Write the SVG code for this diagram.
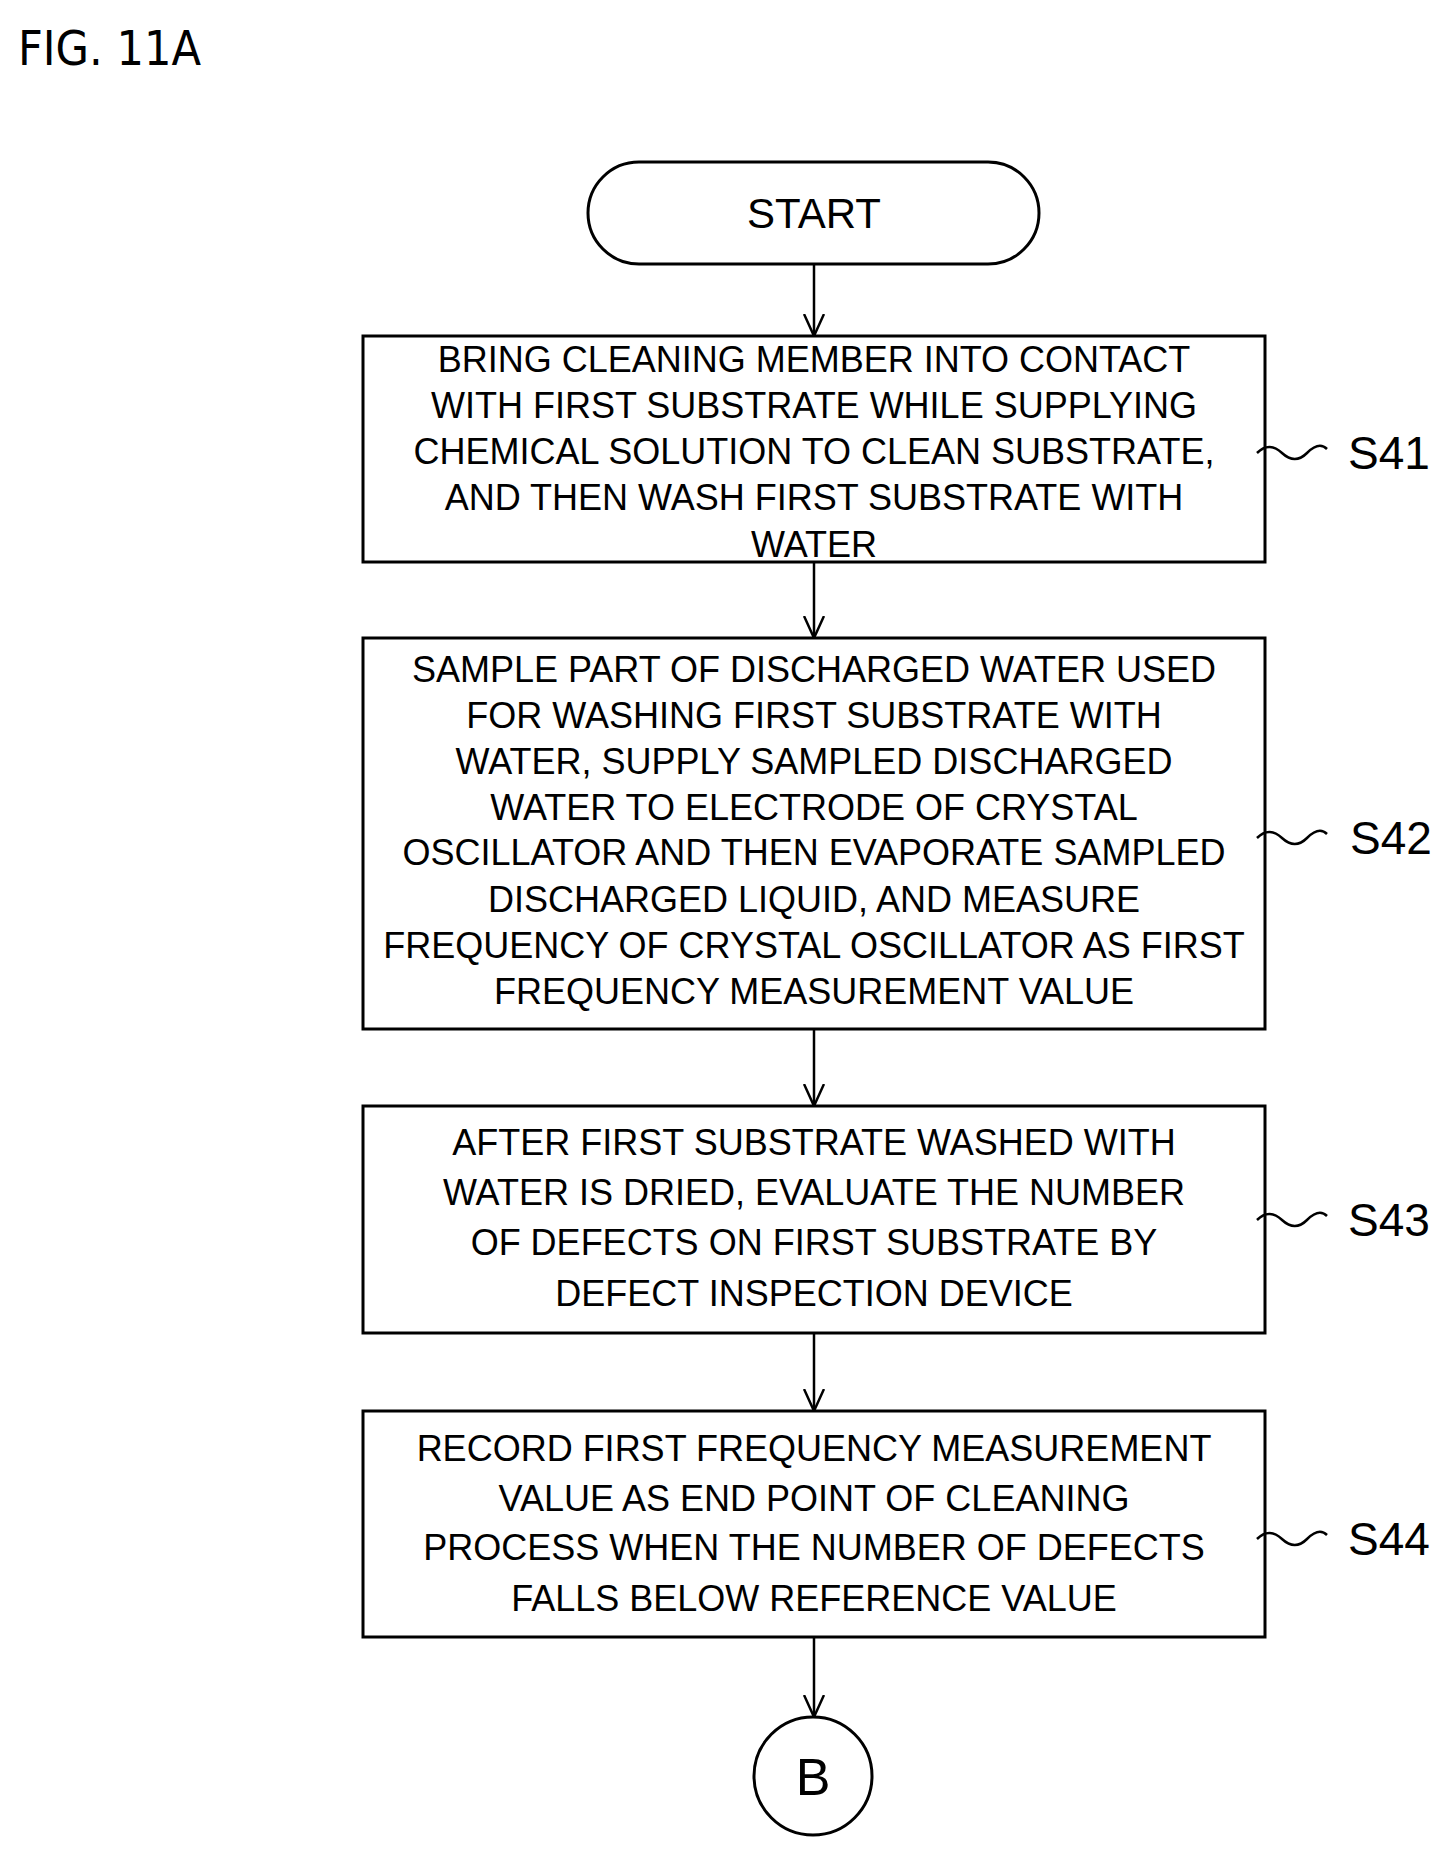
<svg xmlns="http://www.w3.org/2000/svg" width="1450" height="1850" viewBox="0 0 1450 1850">
<style>
.t{font-family:"Liberation Sans Narrow","Liberation Sans",sans-serif;font-size:36px;text-anchor:middle;fill:#000}
.l{font-family:"Liberation Sans",sans-serif;font-size:46px;fill:#000}
.b{fill:#fff;stroke:#000;stroke-width:3}
.c{fill:none;stroke:#000;stroke-width:2.5}
</style>
<defs><marker id="a" markerWidth="24" markerHeight="22" refX="22" refY="11" orient="auto" markerUnits="userSpaceOnUse"><path d="M0,1 L22,11 L0,21" fill="none" stroke="#000" stroke-width="2.5"/></marker></defs>
<rect width="1450" height="1850" fill="#fff"/>
<text x="18" y="65" font-family="DejaVu Sans Condensed,sans-serif" font-size="48" fill="#000">FIG. 11A</text>
<g id="connectors" class="c">
<line x1="814" y1="264" x2="814" y2="336" marker-end="url(#a)"/>
<line x1="814" y1="562" x2="814" y2="638" marker-end="url(#a)"/>
<line x1="814" y1="1029" x2="814" y2="1106" marker-end="url(#a)"/>
<line x1="814" y1="1333" x2="814" y2="1411" marker-end="url(#a)"/>
<line x1="814" y1="1637" x2="814" y2="1717" marker-end="url(#a)"/>
</g>
<g id="start"><rect class="b" x="588" y="162" width="451" height="102" rx="51"/><text class="t" x="814" y="228" style="font-size:42px">START</text></g>
<g id="s41"><rect class="b" x="363" y="336" width="902" height="226"/>
<text class="t" x="814" y="372">BRING CLEANING MEMBER INTO CONTACT</text>
<text class="t" x="814" y="418">WITH FIRST SUBSTRATE WHILE SUPPLYING</text>
<text class="t" x="814" y="464">CHEMICAL SOLUTION TO CLEAN SUBSTRATE,</text>
<text class="t" x="814" y="510">AND THEN WASH FIRST SUBSTRATE WITH</text>
<text class="t" x="814" y="557">WATER</text>
<path class="c" d="M1257,453 q12,-12 25,0 t25,0 t20,-4"/><text class="l" x="1348" y="469">S41</text></g>
<g id="s42"><rect class="b" x="363" y="638" width="902" height="391"/>
<text class="t" x="814" y="682">SAMPLE PART OF DISCHARGED WATER USED</text>
<text class="t" x="814" y="728">FOR WASHING FIRST SUBSTRATE WITH</text>
<text class="t" x="814" y="774">WATER, SUPPLY SAMPLED DISCHARGED</text>
<text class="t" x="814" y="820">WATER TO ELECTRODE OF CRYSTAL</text>
<text class="t" x="814" y="865">OSCILLATOR AND THEN EVAPORATE SAMPLED</text>
<text class="t" x="814" y="912">DISCHARGED LIQUID, AND MEASURE</text>
<text class="t" x="814" y="958">FREQUENCY OF CRYSTAL OSCILLATOR AS FIRST</text>
<text class="t" x="814" y="1004">FREQUENCY MEASUREMENT VALUE</text>
<path class="c" d="M1257,838 q12,-12 25,0 t25,0 t20,-4"/><text class="l" x="1350" y="854">S42</text></g>
<g id="s43"><rect class="b" x="363" y="1106" width="902" height="227"/>
<text class="t" x="814" y="1155">AFTER FIRST SUBSTRATE WASHED WITH</text>
<text class="t" x="814" y="1205">WATER IS DRIED, EVALUATE THE NUMBER</text>
<text class="t" x="814" y="1255">OF DEFECTS ON FIRST SUBSTRATE BY</text>
<text class="t" x="814" y="1306">DEFECT INSPECTION DEVICE</text>
<path class="c" d="M1257,1220 q12,-12 25,0 t25,0 t20,-4"/><text class="l" x="1348" y="1236">S43</text></g>
<g id="s44"><rect class="b" x="363" y="1411" width="902" height="226"/>
<text class="t" x="814" y="1461">RECORD FIRST FREQUENCY MEASUREMENT</text>
<text class="t" x="814" y="1511">VALUE AS END POINT OF CLEANING</text>
<text class="t" x="814" y="1560">PROCESS WHEN THE NUMBER OF DEFECTS</text>
<text class="t" x="814" y="1611">FALLS BELOW REFERENCE VALUE</text>
<path class="c" d="M1257,1539 q12,-12 25,0 t25,0 t20,-4"/><text class="l" x="1348" y="1555">S44</text></g>
<g id="b"><circle class="b" cx="813" cy="1776" r="59"/><text class="t" x="813" y="1795" style="font-size:52px">B</text></g>
</svg>
